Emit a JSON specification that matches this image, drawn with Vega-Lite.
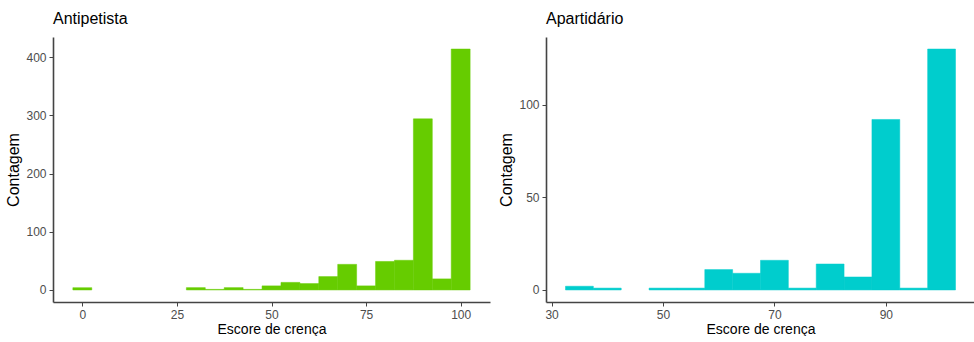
{
  "$schema": "https://vega.github.io/schema/vega-lite/v6.json",
  "padding": {"left": 5, "top": 11, "right": 0, "bottom": 0},
  "background": "white",
  "config": {
    "font": "Liberation Sans",
    "view": {"stroke": null},
    "axis": {
      "grid": false,
      "domainColor": "#444444",
      "domainWidth": 1.6,
      "tickColor": "#444444",
      "tickSize": 4,
      "labelColor": "#4d4d4d",
      "labelFontSize": 12,
      "labelPadding": 3,
      "labelFont": "Liberation Sans",
      "titleFont": "Liberation Sans",
      "titleFontSize": 14,
      "titleFontWeight": "normal",
      "titleColor": "#000000"
    },
    "axisY": {"titleFontSize": 16},
    "title": {"font": "Liberation Sans", "fontSize": 16, "fontWeight": "normal", "anchor": "start", "frame": "group", "offset": 10, "color": "#000000"}
  },
  "datasets": {
    "anti": [
      {"start": -2.5, "end": 2.5, "count": 4},
      {"start": 27.5, "end": 32.5, "count": 4},
      {"start": 32.5, "end": 37.5, "count": 1},
      {"start": 37.5, "end": 42.5, "count": 4},
      {"start": 42.5, "end": 47.5, "count": 1},
      {"start": 47.5, "end": 52.5, "count": 7},
      {"start": 52.5, "end": 57.5, "count": 13},
      {"start": 57.5, "end": 62.5, "count": 11},
      {"start": 62.5, "end": 67.5, "count": 23},
      {"start": 67.5, "end": 72.5, "count": 44},
      {"start": 72.5, "end": 77.5, "count": 7},
      {"start": 77.5, "end": 82.5, "count": 49},
      {"start": 82.5, "end": 87.5, "count": 51},
      {"start": 87.5, "end": 92.5, "count": 294},
      {"start": 92.5, "end": 97.5, "count": 19},
      {"start": 97.5, "end": 102.5, "count": 414}
    ],
    "apart": [
      {"start": 32.5, "end": 37.5, "count": 2},
      {"start": 37.5, "end": 42.5, "count": 1},
      {"start": 47.5, "end": 52.5, "count": 1},
      {"start": 52.5, "end": 57.5, "count": 1},
      {"start": 57.5, "end": 62.5, "count": 11},
      {"start": 62.5, "end": 67.5, "count": 9},
      {"start": 67.5, "end": 72.5, "count": 16},
      {"start": 72.5, "end": 77.5, "count": 1},
      {"start": 77.5, "end": 82.5, "count": 14},
      {"start": 82.5, "end": 87.5, "count": 7},
      {"start": 87.5, "end": 92.5, "count": 92},
      {"start": 92.5, "end": 97.5, "count": 1},
      {"start": 97.5, "end": 102.5, "count": 130}
    ]
  },
  "spacing": 8,
  "hconcat": [
    {
      "title": "Antipetista",
      "width": 437,
      "height": 265,
      "data": {"name": "anti"},
      "mark": {"type": "rect", "color": "#66CC00", "stroke": "#66CC00", "strokeWidth": 0.5},
      "encoding": {
        "x": {"field": "start", "type": "quantitative", "scale": {"domain": [-7.75, 107.75], "nice": false, "zero": false}, "axis": {"values": [0, 25, 50, 75, 100], "title": "Escore de crença", "titlePadding": 2}},
        "x2": {"field": "end"},
        "y": {"field": "count", "type": "quantitative", "scale": {"domain": [-20.7, 434.7], "nice": false, "zero": false}, "axis": {"values": [0, 100, 200, 300, 400], "title": "Contagem", "titlePadding": 4}},
        "y2": {"datum": 0}
      }
    },
    {
      "title": "Apartidário",
      "width": 429,
      "height": 265,
      "data": {"name": "apart"},
      "mark": {"type": "rect", "color": "#00CDCD", "stroke": "#00CDCD", "strokeWidth": 0.5},
      "encoding": {
        "x": {"field": "start", "type": "quantitative", "scale": {"domain": [29, 106], "nice": false, "zero": false}, "axis": {"values": [30, 50, 70, 90], "title": "Escore de crença", "titlePadding": 2}},
        "x2": {"field": "end"},
        "y": {"field": "count", "type": "quantitative", "scale": {"domain": [-6.5, 136.5], "nice": false, "zero": false}, "axis": {"values": [0, 50, 100], "title": "Contagem", "titlePadding": 4}},
        "y2": {"datum": 0}
      }
    }
  ]
}
